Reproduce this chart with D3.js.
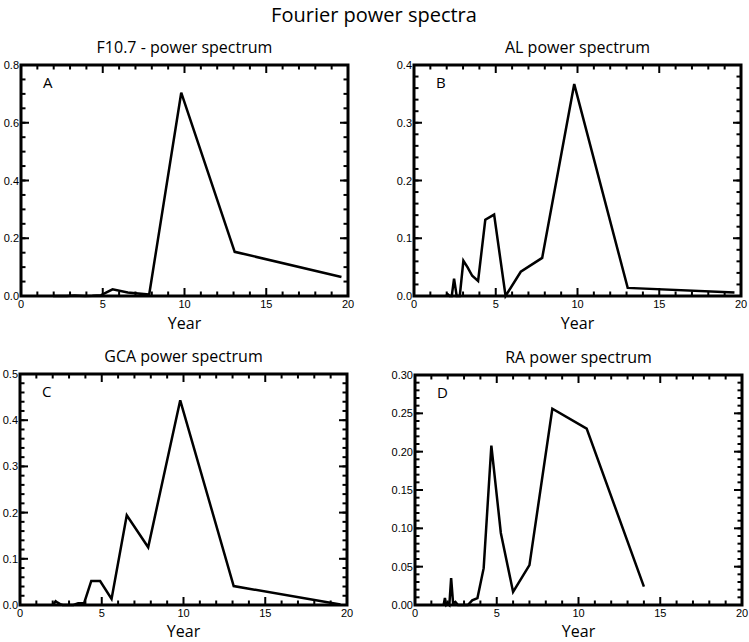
<!DOCTYPE html>
<html>
<head>
<meta charset="utf-8">
<script src="https://cdn.jsdelivr.net/npm/d3@7"></script>
<style>
  body { margin: 0; background: #fff; }
  svg { display: block; }
  .tick-label { font-family: "Liberation Sans", Arial, sans-serif; font-size: 11px; fill: #000; }
  .ttl { font-family: "Open Sans", sans-serif; fill: #000; }
</style>
</head>
<body>
<div id="chart"></div>
<script>
// Periods (years) of the spectral components
const periodsABC = [19.6, 13.07, 9.8, 7.84, 6.53, 5.6, 4.9, 4.36, 3.92, 3.56, 3.27, 3.02, 2.8, 2.61, 2.45, 2.31, 2.18, 2.06, 1.96];
const periodsD = [14.0, 10.5, 8.4, 7.0, 6.0, 5.25, 4.67, 4.2, 3.82, 3.5, 3.23, 3.0, 2.8, 2.63, 2.47, 2.33, 2.21, 2.1, 2.0, 1.91, 1.83, 1.75];

// Power values
const powerF107 = [0.066, 0.153, 0.704, 0.005, 0.012, 0.023, 0.003, 0.001, 0.0, 0.001, 0.002, 0.001, 0, 0, 0, 0, 0, 0, 0];
const powerAL = [0.006, 0.014, 0.367, 0.066, 0.042, 0.0, 0.141, 0.132, 0.026, 0.035, 0.05, 0.061, 0.0, 0.0, 0.030, 0.0, 0.0, 0.003, 0.0];
const powerGCA = [0.001, 0.041, 0.443, 0.125, 0.194, 0.013, 0.052, 0.052, 0.004, 0.004, 0.0, 0.0, 0.0, 0.0, 0.002, 0.005, 0.008, 0.002, 0.0];
const powerRA = [0.024, 0.230, 0.256, 0.052, 0.017, 0.094, 0.208, 0.048, 0.009, 0.006, 0.0, 0.0, 0.0, 0.0, 0.004, 0.002, 0.035, 0.0, 0.002, 0.0, 0.009, 0.0];

// Tick labels
const xTicks = [0, 5, 10, 15, 20];
const yTicksA = [0, 0.2, 0.4, 0.6, 0.8];
const yTicksB = [0, 0.1, 0.2, 0.3, 0.4];
const yTicksC = [0, 0.1, 0.2, 0.3, 0.4, 0.5];
const yTicksD = [0, 0.05, 0.1, 0.15, 0.2, 0.25, 0.3];

const panels = [
  { title: "F10.7 - power spectrum", letter: "A", x: periodsABC, y: powerF107, yTicks: yTicksA, yMinor: 0.05, fmt: ".1f",
    box: { left: 21, right: 348, top: 65, bottom: 296 } },
  { title: "AL power spectrum", letter: "B", x: periodsABC, y: powerAL, yTicks: yTicksB, yMinor: 0.02, fmt: ".1f",
    box: { left: 414, right: 741, top: 65, bottom: 296 } },
  { title: "GCA power spectrum", letter: "C", x: periodsABC, y: powerGCA, yTicks: yTicksC, yMinor: 0.02, fmt: ".1f",
    box: { left: 20, right: 347, top: 374, bottom: 605 } },
  { title: "RA power spectrum", letter: "D", x: periodsD, y: powerRA, yTicks: yTicksD, yMinor: 0.01, fmt: ".2f",
    box: { left: 415, right: 742, top: 375, bottom: 605 } }
];

const W = 749, H = 642;
const svg = d3.select("#chart").append("svg").attr("width", W).attr("height", H);

svg.append("text").attr("class", "ttl")
  .attr("x", 374).attr("y", 22)
  .attr("text-anchor", "middle").attr("font-size", 20)
  .text("Fourier power spectra");

panels.forEach(p => {
  const b = p.box;
  const x = d3.scaleLinear().domain([0, 20]).range([b.left, b.right]);
  const yMax = p.yTicks[p.yTicks.length - 1];
  const y = d3.scaleLinear().domain([0, yMax]).range([b.bottom, b.top]);
  const g = svg.append("g");

  // Ticks on all four sides, pointing inward
  const xMinor = d3.range(0, 20.001, 1).filter(v => v % 5 !== 0);
  const yMinor = d3.range(0, yMax + 1e-9, p.yMinor);
  const tickLines = [];
  xTicks.forEach(v => { tickLines.push([x(v), b.bottom, x(v), b.bottom - 8]); tickLines.push([x(v), b.top, x(v), b.top + 8]); });
  xMinor.forEach(v => { tickLines.push([x(v), b.bottom, x(v), b.bottom - 4.5]); tickLines.push([x(v), b.top, x(v), b.top + 4.5]); });
  p.yTicks.forEach(v => { tickLines.push([b.left, y(v), b.left + 8, y(v)]); tickLines.push([b.right, y(v), b.right - 8, y(v)]); });
  yMinor.forEach(v => { tickLines.push([b.left, y(v), b.left + 4.5, y(v)]); tickLines.push([b.right, y(v), b.right - 4.5, y(v)]); });
  g.selectAll("line.tk").data(tickLines).join("line")
    .attr("x1", d => d[0]).attr("y1", d => d[1]).attr("x2", d => d[2]).attr("y2", d => d[3])
    .attr("stroke", "#000").attr("stroke-width", 2);

  // Frame
  g.append("rect")
    .attr("x", b.left).attr("y", b.top)
    .attr("width", b.right - b.left).attr("height", b.bottom - b.top)
    .attr("fill", "none").attr("stroke", "#000").attr("stroke-width", 3);

  // Tick labels
  g.selectAll("text.xl").data(xTicks).join("text")
    .attr("class", "tick-label")
    .attr("x", d => x(d)).attr("y", b.bottom + 12)
    .attr("text-anchor", "middle").text(d => d);
  const f = d3.format(p.fmt);
  g.selectAll("text.yl").data(p.yTicks).join("text")
    .attr("class", "tick-label")
    .attr("x", b.left - 2).attr("y", d => y(d) + 4)
    .attr("text-anchor", "end").text(d => f(d));

  // Titles
  g.append("text").attr("class", "ttl")
    .attr("x", (b.left + b.right) / 2).attr("y", b.top - 12)
    .attr("text-anchor", "middle").attr("font-size", 16)
    .text(p.title);
  g.append("text").attr("class", "ttl")
    .attr("x", (b.left + b.right) / 2).attr("y", Math.min(b.bottom + 33, 637))
    .attr("text-anchor", "middle").attr("font-size", 16)
    .text("Year");
  g.append("text").attr("class", "ttl")
    .attr("x", b.left + 22).attr("y", b.top + 23)
    .attr("font-size", 15)
    .text(p.letter);

  // Spectrum line
  const pts = p.x.map((v, i) => ({ period: v, power: p.y[i] }));
  g.append("path")
    .datum(pts)
    .attr("fill", "none")
    .attr("stroke", "#000")
    .attr("stroke-width", 2.5)
    .attr("stroke-linejoin", "miter")
    .attr("d", d3.line().x(d => x(d.period)).y(d => y(d.power)));
});
</script>
</body>
</html>
